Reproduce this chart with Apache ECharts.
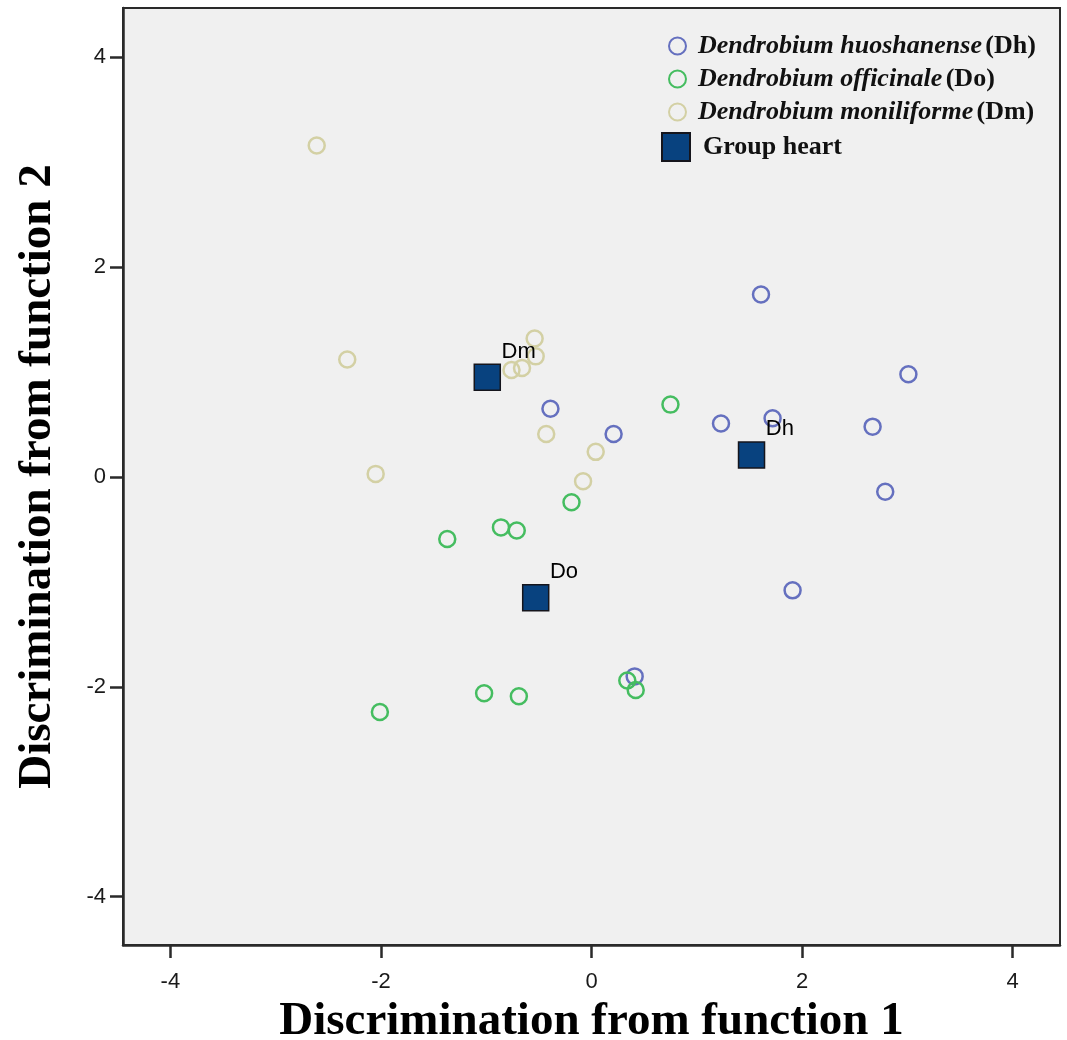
<!DOCTYPE html>
<html><head><meta charset="utf-8">
<script src="https://cdn.jsdelivr.net/npm/echarts@6/dist/echarts.min.js"></script>
<style>html,body{margin:0;padding:0;background:#fff}#c{width:1067px;height:1040px}</style>
</head><body><div id="c"></div>
<script>
// ---- data ----
const dhPoints = [[1.61,1.74],[3.01,0.98],[0.21,0.41],[1.23,0.51],[1.72,0.56],[2.67,0.48],[2.79,-0.14],[1.91,-1.08],[-0.39,0.65],[0.41,-1.90]];
const doPoints = [[0.75,0.69],[-0.19,-0.24],[-0.86,-0.48],[-0.71,-0.51],[-1.37,-0.59],[-2.01,-2.24],[-1.02,-2.06],[-0.69,-2.09],[0.34,-1.94],[0.42,-2.03]];
const dmPoints = [[-2.61,3.16],[-2.32,1.12],[-2.05,0.03],[-0.54,1.32],[-0.53,1.15],[-0.76,1.02],[-0.66,1.04],[-0.43,0.41],[0.04,0.24],[-0.08,-0.04]];
const centroidNames = ['Dh','Do','Dm'];
const centroidX = [1.52,-0.53,-0.99];
const centroidY = [0.21,-1.15,0.95];
const tickValues = [-4,-2,0,2,4];
const speciesItalic = ['Dendrobium huoshanense','Dendrobium officinale','Dendrobium moniliforme'];
const speciesAbbr = ['(Dh)','(Do)','(Dm)'];
const centroidLegend = 'Group heart';
const xTitle = 'Discrimination from function 1';
const yTitle = 'Discrimination from function 2';

const colors = ['#6570bf','#45bd60','#d3d0a4'];
const seriesNames = speciesItalic.map((s,i)=>s+' '+speciesAbbr[i]);
const pointSets = [dhPoints, doPoints, dmPoints];

const chart = echarts.init(document.getElementById('c'), null, {renderer:'canvas'});
const axisFont = {fontFamily:'Liberation Sans, Arial, sans-serif', fontSize:22, color:'#1a1a1a'};
const nameFont = {fontFamily:'Liberation Serif, Times New Roman, serif', fontWeight:'bold', fontSize:47, color:'#000'};

const series = pointSets.map((pts,i)=>({
  name: seriesNames[i], type:'scatter', data: pts, symbol:'circle', symbolSize:16,
  itemStyle:{color:'rgba(0,0,0,0)', borderColor:colors[i], borderWidth:2.5, opacity:1},
  emphasis:{disabled:true}, z:2
}));
series.push({
  name: centroidLegend, type:'scatter', symbol:'rect', symbolSize:26,
  data: centroidNames.map((n,i)=>({name:n, value:[centroidX[i], centroidY[i]]})),
  itemStyle:{color:'#08427f', borderColor:'#15151c', borderWidth:1.5, opacity:1},
  label:{show:true, formatter:p=>p.name, position:[28,-12], align:'left', verticalAlign:'middle',
    fontFamily:'Liberation Sans, Arial, sans-serif', fontSize:22, color:'#000'},
  emphasis:{disabled:true}, z:3
});

const richStyle = {
  i:{fontFamily:'Liberation Serif, Times New Roman, serif', fontStyle:'italic', fontWeight:'bold', fontSize:26, lineHeight:26, color:'#111'},
  b:{fontFamily:'Liberation Serif, Times New Roman, serif', fontWeight:'bold', fontSize:26, lineHeight:26, color:'#111'}
};

chart.setOption({
  animation:false,
  backgroundColor:'#fff',
  grid:{left:123, right:7, top:8, bottom:95, outerBoundsMode:'none', containLabel:false,
    show:true, backgroundColor:'#f0f0f0', borderColor:'#2a2a2a', borderWidth:2},
  xAxis:{type:'value', min:-4.45, max:4.45,
    axisLine:{onZero:false, lineStyle:{color:'#2a2a2a', width:2.5}},
    axisTick:{show:true, customValues:tickValues, length:13, lineStyle:{color:'#2a2a2a', width:2.5}},
    axisLabel:Object.assign({customValues:tickValues, margin:26}, axisFont),
    splitLine:{show:false},
    name:xTitle, nameLocation:'middle', nameGap:50, nameTextStyle:nameFont},
  yAxis:{type:'value', min:-4.46, max:4.47,
    axisLine:{onZero:false, lineStyle:{color:'#2a2a2a', width:2.5}},
    axisTick:{show:true, customValues:tickValues, length:13, lineStyle:{color:'#2a2a2a', width:2.5}},
    axisLabel:Object.assign({customValues:tickValues, margin:17}, axisFont),
    splitLine:{show:false},
    name:yTitle, nameLocation:'middle', nameGap:62, nameTextStyle:nameFont},
  legend:[
    {data:seriesNames, orient:'vertical', left:663, top:28, itemWidth:17, itemHeight:17, itemGap:7,
     selectedMode:false,
     formatter:name=>{const i=seriesNames.indexOf(name); return '{i|'+speciesItalic[i]+'} {b|'+speciesAbbr[i]+'}';},
     textStyle:{rich:richStyle, padding:[0,0,0,7]}},
    {data:[centroidLegend], orient:'vertical', left:656, top:127, itemWidth:28, itemHeight:28,
     selectedMode:false,
     textStyle:{fontFamily:'Liberation Serif, Times New Roman, serif', fontWeight:'bold', fontSize:26, color:'#111', padding:[0,0,0,8]}}
  ],
  series:series
});
</script></body></html>
